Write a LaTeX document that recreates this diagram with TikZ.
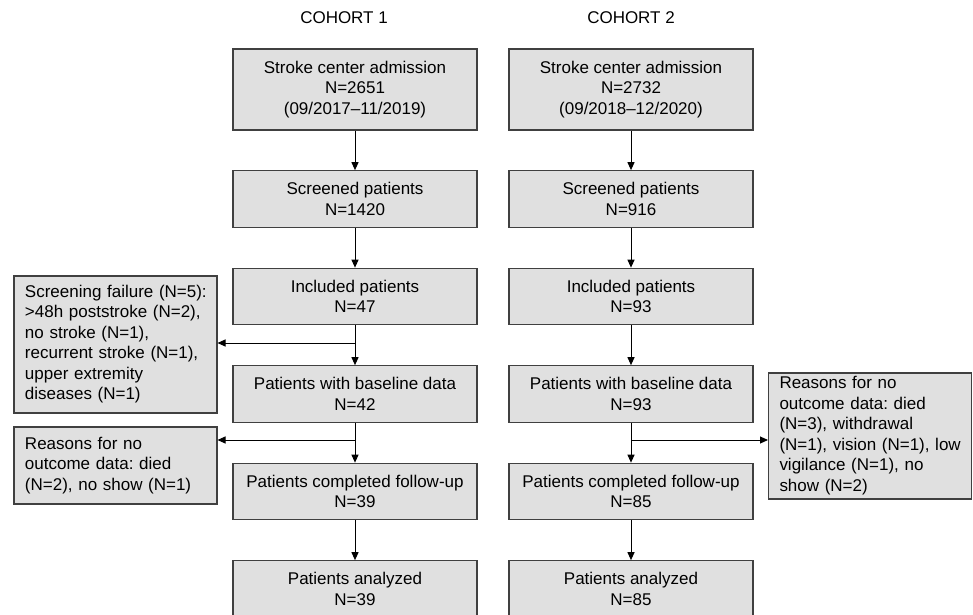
\documentclass[tikz,border=0pt]{standalone}
\usepackage{fontspec}
\setmainfont{Liberation Sans}
\usetikzlibrary{arrows.meta,positioning}
\definecolor{boxfill}{RGB}{224,224,224}
\definecolor{boxline}{RGB}{64,64,64}
\newcommand{\flowfont}{\fontsize{14.5}{17.5}\selectfont\frenchspacing}
\newcommand{\notelines}[1]{\begin{tabular}{@{}l@{}}#1\end{tabular}}

\begin{document}
\begin{tikzpicture}[x=0.03cm,y=-0.03cm,
  box/.style={rectangle,draw=boxline,fill=boxfill,line width=0.9pt,minimum width=7.32cm,minimum height=1.7cm,align=center,inner sep=0pt,font=\flowfont},
  note/.style={rectangle,draw=boxline,fill=boxfill,line width=0.9pt,text width=5.43cm,inner xsep=0.33cm,inner ysep=0pt,align=left,font=\flowfont},
  arr/.style={-{Triangle[length=6.8pt,width=6pt]},line width=0.8pt}]
\useasboundingbox (0,0) rectangle (973,615);

\node[font=\flowfont] at (344,18) (c1) {COHORT 1};
\node[font=\flowfont] at (631,18) (c2) {COHORT 2};

\node[box,minimum height=2.43cm] at (355,89.5) (a1) {Stroke center admission\\N=2651\\(09/2017–11/2019)};
\node[box] at (355,199)   (a2) {Screened patients\\N=1420};
\node[box] at (355,296.5) (a3) {Included patients\\N=47};
\node[box] at (355,394)   (a4) {Patients with baseline data\\N=42};
\node[box] at (355,491.5) (a5) {Patients completed follow-up\\N=39};
\node[box] at (355,589)   (a6) {Patients analyzed\\N=39};

\node[box,minimum height=2.43cm] at (631,89.5) (b1) {Stroke center admission\\N=2732\\(09/2018–12/2020)};
\node[box] at (631,199)   (b2) {Screened patients\\N=916};
\node[box] at (631,296.5) (b3) {Included patients\\N=93};
\node[box] at (631,394)   (b4) {Patients with baseline data\\N=93};
\node[box] at (631,491.5) (b5) {Patients completed follow-up\\N=85};
\node[box] at (631,589)   (b6) {Patients analyzed\\N=85};

\node[note,minimum height=4.11cm] at (115.5,344.5) (fail) {\notelines{Screening failure (N=5):\\>48h poststroke (N=2),\\no stroke (N=1),\\recurrent stroke (N=1),\\upper extremity\\diseases (N=1)}};
\node[note,minimum height=2.31cm] at (115.5,465.5) (lost1) {\notelines{Reasons for no\\outcome data: died\\(N=2), no show (N=1)}};
\node[note,minimum height=3.78cm] at (870,436) (lost2) {\notelines{Reasons for no\\outcome data: died\\(N=3), withdrawal\\(N=1), vision (N=1), low\\vigilance (N=1), no\\show (N=2)}};

\coordinate (ja) at (355,343);
\coordinate (jb) at (355,440);
\coordinate (jc) at (631,440);

\draw[arr] (a1) -- (a2);
\draw[arr] (a2) -- (a3);
\draw[arr] (a3) -- (a4);
\draw[arr] (a4) -- (a5);
\draw[arr] (a5) -- (a6);
\draw[arr] (b1) -- (b2);
\draw[arr] (b2) -- (b3);
\draw[arr] (b3) -- (b4);
\draw[arr] (b4) -- (b5);
\draw[arr] (b5) -- (b6);
\draw[arr] (ja) -- (ja -| fail.east);
\draw[arr] (jb) -- (jb -| lost1.east);
\draw[arr] (jc) -- (jc -| lost2.west);
\end{tikzpicture}
\end{document}
